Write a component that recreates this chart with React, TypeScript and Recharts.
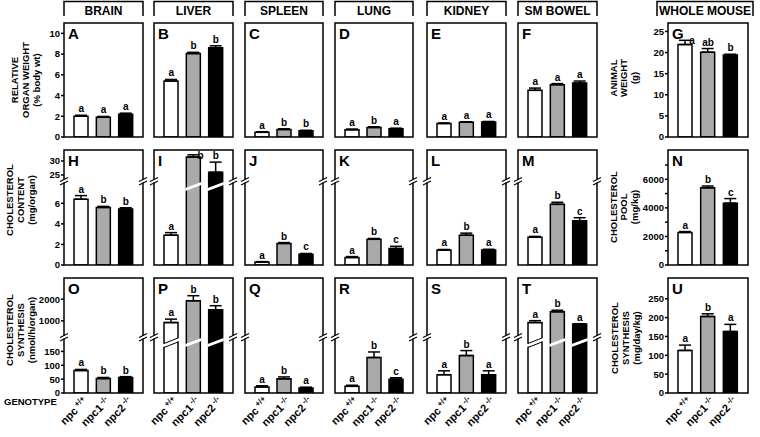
import React from 'react';
import { ComposedChart, Bar, ErrorBar, Line, LabelList, XAxis, YAxis } from 'recharts';

const FONT = '"Liberation Sans", Arial, Helvetica, sans-serif';
const GENOTYPES = ['npc +/+', 'npc1 -/-', 'npc2 -/-'];
const FILLS = ['#ffffff', '#aaaaaa', '#000000'];

// relative organ weight (% body wt) and animal weight (g)
const brainWt = [2.0, 1.9, 2.2];
const brainWtErr = [0.1, 0.08, 0.1];
const brainWtSig = ['a', 'a', 'a'];
const liverWt = [5.4, 8.05, 8.6];
const liverWtErr = [0.15, 0.12, 0.2];
const liverWtSig = ['a', 'b', 'b'];
const spleenWt = [0.45, 0.72, 0.6];
const spleenWtErr = [0.06, 0.07, 0.05];
const spleenWtSig = ['a', 'b', 'b'];
const lungWt = [0.7, 0.92, 0.8];
const lungWtErr = [0.07, 0.07, 0.05];
const lungWtSig = ['a', 'b', 'a'];
const kidneyWt = [1.3, 1.42, 1.45];
const kidneyWtErr = [0.06, 0.05, 0.05];
const kidneyWtSig = ['a', 'a', 'a'];
const bowelWt = [4.5, 5.05, 5.2];
const bowelWtErr = [0.22, 0.1, 0.2];
const bowelWtSig = ['a', 'a', 'a'];
const bodyWt = [21.9, 20.1, 19.4];
const bodyWtErr = [1.0, 0.85, 0.2];
const bodyWtSig = ['a', 'ab', 'b'];

// cholesterol content (mg/organ) and pool (mg/kg)
const brainChol = [6.4, 5.6, 5.45];
const brainCholErr = [0.35, 0.1, 0.12];
const brainCholSig = ['a', 'b', 'b'];
const liverChol = [2.9, 31.4, 26.0];
const liverCholErr = [0.25, 0.8, 3.6];
const liverCholSig = ['a', 'b', 'b'];
const spleenChol = [0.28, 2.1, 1.05];
const spleenCholErr = [0.05, 0.08, 0.07];
const spleenCholSig = ['a', 'b', 'c'];
const lungChol = [0.72, 2.5, 1.6];
const lungCholErr = [0.1, 0.08, 0.22];
const lungCholSig = ['a', 'b', 'c'];
const kidneyChol = [1.45, 2.9, 1.45];
const kidneyCholErr = [0.06, 0.2, 0.08];
const kidneyCholSig = ['a', 'b', 'a'];
const bowelChol = [2.7, 5.9, 4.3];
const bowelCholErr = [0.08, 0.2, 0.3];
const bowelCholSig = ['a', 'b', 'c'];
const cholPool = [2280, 5400, 4330];
const cholPoolErr = [60, 130, 320];
const cholPoolSig = ['a', 'b', 'c'];

// cholesterol synthesis (nmol/h/organ) and whole body (mg/day/kg)
const brainSyn = [81, 52, 56];
const brainSynErr = [4, 4, 3];
const brainSynSig = ['a', 'b', 'b'];
const liverSyn = [920, 1930, 1510];
const liverSynErr = [160, 230, 190];
const liverSynSig = ['a', 'b', 'b'];
const spleenSyn = [22, 51, 18];
const spleenSynErr = [4, 7, 3];
const spleenSynSig = ['a', 'b', 'a'];
const lungSyn = [24, 128, 50];
const lungSynErr = [4, 20, 5];
const lungSynSig = ['a', 'b', 'c'];
const kidneySyn = [66, 135, 66];
const kidneySynErr = [14, 18, 14];
const kidneySynSig = ['a', 'b', 'a'];
const bowelSyn = [920, 1420, 850];
const bowelSynErr = [90, 70, 20];
const bowelSynSig = ['a', 'b', 'a'];
const bodySyn = [113, 203, 163];
const bodySynErr = [14, 7, 19];
const bodySynSig = ['a', 'b', 'a'];

const HEADERS = ['BRAIN', 'LIVER', 'SPLEEN', 'LUNG', 'KIDNEY', 'SM BOWEL'];

type Row = { g: string; v: number; e: [number, number]; top: number; sig: string; fill: string };

const rowsOf = (v: number[], e: number[], s: string[]): Row[] =>
  GENOTYPES.map((g, i) => ({ g, v: v[i], e: [0, e[i]], top: v[i] + e[i], sig: s[i], fill: FILLS[i] }));

// layout
const COLS = [[64, 143], [154, 233], [245, 323], [335, 413], [427, 506], [518, 597]];
const WHOLE = [668, 748];
const ROWS = [[23, 137], [150, 265], [278, 393]];
const BREAKS = [0, 181, 337];
const AR = 6;

const tickFont = { fontSize: 9.5, fontWeight: 700, fill: '#000', fontFamily: FONT };

const GenoTick = (p: any) => {
  const { x, y, payload } = p;
  const [base, sup] = String(payload.value).split(' ');
  return (
    <g transform={`translate(${x + 7},${y + 9}) rotate(-45)`}>
      <text textAnchor="end" fontFamily={FONT} fontSize={11} fontWeight={700} fill="#000">
        <tspan>{base}</tspan>
        <tspan dx={2} dy={-4} fontSize={8}>{sup}</tspan>
      </text>
    </g>
  );
};

const makeShape = (kind: string, plotH: number) => (p: any) => {
  const { x, y, width: w, height: h, payload } = p;
  if (x == null || y == null || h == null) return null;
  const fill = payload.fill;
  let t0 = y;
  let b0 = y + h;
  if (h < 0) {
    t0 = y + h;
    b0 = y;
  }
  if (t0 >= plotH - 0.01) return null;
  const over = kind === 'lower' && t0 < 0;
  const t = Math.max(t0, 0);
  const b = Math.min(b0, plotH);
  if (b <= t) return null;
  let d = `M${x},${b}V${t}H${x + w}V${b}Z`;
  if (over) d = `M${x},${t}V${b}H${x + w}V${t}`;
  if (kind === 'upper') d = `M${x},${b}V${t}H${x + w}V${b}`;
  return (
    <g>
      <rect x={x} y={t} width={w} height={b - t} fill={fill} />
      <path d={d} fill="none" stroke="#000" strokeWidth={1.5} />
      {over && (
        <g>
          <polygon points={`${x - 1},${7} ${x + w + 1},${1} ${x + w + 1},${4} ${x - 1},${10}`} fill="#fff" />
          {fill === '#ffffff' && (
            <g stroke="#000" strokeWidth={1}>
              <line x1={x} y1={6.5} x2={x + w} y2={1} />
              <line x1={x} y1={10.5} x2={x + w} y2={5} />
            </g>
          )}
        </g>
      )}
    </g>
  );
};

const makeLabel = (axisL: number, letterZone: boolean) => (p: any) => {
  const vb = p.viewBox || {};
  const x = (vb.x ?? p.x) + (vb.width || 0) / 2;
  const y = vb.y ?? p.y;
  const value = p.value;
  if (!value || y == null || isNaN(y)) return null;
  let lx = x;
  let ly = y - 3;
  let anchor = 'middle';
  const rel = x - axisL;
  if (ly - 8 < 0 || (letterZone && rel < 26 && ly - 8 < 17)) {
    lx = x + 4;
    ly = y + 4;
    anchor = 'start';
  }
  return (
    <text x={lx} y={ly} textAnchor={anchor} fontFamily={FONT} fontSize={10} fontWeight={700} fill="#000">
      {value}
    </text>
  );
};

type SegProps = {
  rows: Row[];
  domain: [number, number];
  ticks: number[];
  fmt?: (v: number) => string;
  left: number;
  top: number;
  width: number;
  height: number;
  axisL: number;
  showLabels: boolean;
  xLabels: boolean;
  kind: string;
};

function Segment({ rows, domain, ticks, fmt, left, top, width, height, axisL, showLabels, xLabels, kind }: SegProps) {
  const xH = xLabels ? 46 : 0;
  // room under the plot so the "0" tick label is not cut
  const padB = !xLabels && kind !== 'upper' ? 6 : 0;
  const data = rows.map((r) => ({
    ...r,
    sig:
      kind === 'lower' ? (r.v <= domain[1] ? r.sig : '') : kind === 'upper' ? (r.v > domain[0] ? r.sig : '') : r.sig,
  }));
  return (
    <div style={{ position: 'absolute', left: left - axisL, top }}>
      <ComposedChart
        width={width + axisL + AR}
        height={height + xH + padB}
        data={data}
        margin={{ top: 0, right: 0, bottom: padB, left: 0 }}
      >
        <XAxis
          dataKey="g"
          hide={!xLabels}
          height={xH}
          axisLine={false}
          tickLine={false}
          tickSize={0}
          tickMargin={0}
          interval={0}
          tick={<GenoTick />}
          padding={{ left: 6, right: 6 }}
        />
        <YAxis
          yAxisId="l"
          type="number"
          width={axisL}
          domain={domain}
          ticks={ticks}
          interval={0}
          allowDataOverflow
          axisLine={false}
          tickSize={3}
          tickMargin={1}
          tickLine={{ stroke: '#000', strokeWidth: 1.5 }}
          tick={showLabels ? tickFont : false}
          tickFormatter={fmt}
        />
        <YAxis
          yAxisId="r"
          type="number"
          orientation="right"
          width={AR}
          domain={domain}
          ticks={ticks}
          interval={0}
          allowDataOverflow
          axisLine={false}
          tickSize={3}
          tickLine={{ stroke: '#000', strokeWidth: 1.5 }}
          tick={false}
        />
        <Bar yAxisId="l" dataKey="v" barSize={14} isAnimationActive={false} shape={makeShape(kind, height)}>
          <ErrorBar dataKey="e" width={6} stroke="#000" strokeWidth={1.5} direction="y" />
        </Bar>
        <Line yAxisId="l" dataKey="top" stroke="none" dot={false} activeDot={false} isAnimationActive={false}>
          <LabelList dataKey="sig" content={makeLabel(axisL, kind !== 'lower')} />
        </Line>
      </ComposedChart>
    </div>
  );
}

type PanelProps = {
  x: number[];
  y: number[];
  rows: Row[];
  lower: [number, number];
  lowerTicks: number[];
  upper?: [number, number];
  upperTicks?: number[];
  breakY?: number;
  labels: boolean;
  xLabels: boolean;
  fmt?: (v: number) => string;
};

function Panel({ x, y, rows, lower, lowerTicks, upper, upperTicks, breakY, labels, xLabels, fmt }: PanelProps) {
  const axisL = labels ? 34 : 6;
  const w = x[1] - x[0];
  if (upper && breakY) {
    return (
      <>
        <Segment rows={rows} domain={upper} ticks={upperTicks || []} left={x[0]} top={y[0]} width={w}
          height={breakY - y[0]} axisL={axisL} showLabels={labels} xLabels={false} kind="upper" fmt={fmt} />
        <Segment rows={rows} domain={lower} ticks={lowerTicks} left={x[0]} top={breakY} width={w}
          height={y[1] - breakY} axisL={axisL} showLabels={labels} xLabels={xLabels} kind="lower" fmt={fmt} />
      </>
    );
  }
  return (
    <Segment rows={rows} domain={lower} ticks={lowerTicks} left={x[0]} top={y[0]} width={w}
      height={y[1] - y[0]} axisL={axisL} showLabels={labels} xLabels={xLabels} kind="plain" fmt={fmt} />
  );
}

const breakMark = (ex: number, by: number, key: string) => (
  <g key={key}>
    <rect x={ex - 1.5} y={by - 1.5} width={3} height={3} fill="#fff" />
    <line x1={ex - 4} y1={by + 0.5} x2={ex + 4} y2={by - 3.5} stroke="#000" strokeWidth={1.2} />
    <line x1={ex - 4} y1={by + 4} x2={ex + 4} y2={by} stroke="#000" strokeWidth={1.2} />
  </g>
);

const Title = ({ cy, xs, lines }: { cy: number; xs: number[]; lines: string[] }) => (
  <g>
    {lines.map((l, i) => (
      <text key={l} transform={`translate(${xs[i]},${cy}) rotate(-90)`} textAnchor="middle"
        fontFamily={FONT} fontSize={9.5} fontWeight={700} fill="#000">
        {l}
      </text>
    ))}
  </g>
);

export default function App() {
  const weightRows = [
    rowsOf(brainWt, brainWtErr, brainWtSig),
    rowsOf(liverWt, liverWtErr, liverWtSig),
    rowsOf(spleenWt, spleenWtErr, spleenWtSig),
    rowsOf(lungWt, lungWtErr, lungWtSig),
    rowsOf(kidneyWt, kidneyWtErr, kidneyWtSig),
    rowsOf(bowelWt, bowelWtErr, bowelWtSig),
  ];
  const cholRows = [
    rowsOf(brainChol, brainCholErr, brainCholSig),
    rowsOf(liverChol, liverCholErr, liverCholSig),
    rowsOf(spleenChol, spleenCholErr, spleenCholSig),
    rowsOf(lungChol, lungCholErr, lungCholSig),
    rowsOf(kidneyChol, kidneyCholErr, kidneyCholSig),
    rowsOf(bowelChol, bowelCholErr, bowelCholSig),
  ];
  const synRows = [
    rowsOf(brainSyn, brainSynErr, brainSynSig),
    rowsOf(liverSyn, liverSynErr, liverSynSig),
    rowsOf(spleenSyn, spleenSynErr, spleenSynSig),
    rowsOf(lungSyn, lungSynErr, lungSynSig),
    rowsOf(kidneySyn, kidneySynErr, kidneySynSig),
    rowsOf(bowelSyn, bowelSynErr, bowelSynSig),
  ];
  const letters = ['ABCDEFG', 'HIJKLMN', 'OPQRSTU'];
  const allCols = [...COLS, WHOLE];

  return (
    <div style={{ position: 'absolute', left: 0, top: 0, width: 760, height: 437, background: '#fff', overflow: 'hidden' }}>
      {weightRows.map((r, i) => (
        <Panel key={`w${i}`} x={COLS[i]} y={ROWS[0]} rows={r} lower={[0, 11]} lowerTicks={[0, 2, 4, 6, 8, 10]}
          labels={i === 0} xLabels={false} />
      ))}
      <Panel x={WHOLE} y={ROWS[0]} rows={rowsOf(bodyWt, bodyWtErr, bodyWtSig)} lower={[0, 27]}
        lowerTicks={[0, 5, 10, 15, 20, 25]} labels xLabels={false} />

      {cholRows.map((r, i) => (
        <Panel key={`c${i}`} x={COLS[i]} y={ROWS[1]} rows={r} lower={[0, 8.17]} lowerTicks={[0, 2, 4, 6]}
          upper={[22.86, 33.93]} upperTicks={[25, 30]} breakY={BREAKS[1]} labels={i === 0} xLabels={false} />
      ))}
      <Panel x={WHOLE} y={ROWS[1]} rows={rowsOf(cholPool, cholPoolErr, cholPoolSig)} lower={[0, 8050]}
        lowerTicks={[0, 1000, 2000, 3000, 4000, 5000, 6000, 7000]} labels xLabels={false}
        fmt={(v) => (v % 2000 === 0 ? String(v) : '')} />

      {synRows.map((r, i) => (
        <Panel key={`s${i}`} x={COLS[i]} y={ROWS[2]} rows={r} lower={[0, 202]} lowerTicks={[0, 50, 100, 150]}
          upper={[256, 2977]} upperTicks={[1000, 2000]} breakY={BREAKS[2]} labels={i === 0} xLabels />
      ))}
      <Panel x={WHOLE} y={ROWS[2]} rows={rowsOf(bodySyn, bodySynErr, bodySynSig)} lower={[0, 305]}
        lowerTicks={[0, 50, 100, 150, 200, 250]} labels xLabels />

      <svg width={760} height={437} style={{ position: 'absolute', left: 0, top: 0, pointerEvents: 'none' }}>
        {HEADERS.map((h, i) => (
          <g key={h}>
            <path d={`M${COLS[i][0]},16V1.5H${COLS[i][1]}V16`} fill="none" stroke="#000" strokeWidth={1.5} />
            <text x={(COLS[i][0] + COLS[i][1]) / 2} y={14.5} textAnchor="middle" fontFamily={FONT}
              fontSize={12} fontWeight={700}>{h}</text>
          </g>
        ))}
        <path d="M657,16V1.5H753V16" fill="none" stroke="#000" strokeWidth={1.5} />
        <text x={705} y={14.5} textAnchor="middle" fontFamily={FONT} fontSize={12} fontWeight={700}>WHOLE MOUSE</text>

        {ROWS.map((ry, ri) =>
          allCols.map((cx, ci) => (
            <g key={`f${ri}${ci}`}>
              <rect x={cx[0]} y={ry[0]} width={cx[1] - cx[0]} height={ry[1] - ry[0]} fill="none" stroke="#000" strokeWidth={1.5} />
              <text x={cx[0] + 4} y={ry[0] + 16} fontFamily={FONT} fontSize={15} fontWeight={700}>{letters[ri][ci]}</text>
              {ri > 0 && ci < 6 && breakMark(cx[0], BREAKS[ri], `bl${ri}${ci}`)}
              {ri > 0 && ci < 6 && breakMark(cx[1], BREAKS[ri], `br${ri}${ci}`)}
            </g>
          ))
        )}

        <Title cy={80} xs={[18, 29, 40]} lines={['RELATIVE', 'ORGAN WEIGHT', '(% body wt)']} />
        <Title cy={200} xs={[13, 24, 35]} lines={['CHOLESTEROL', 'CONTENT', '(mg/organ)']} />
        <Title cy={330} xs={[13, 24, 35]} lines={['CHOLESTEROL', 'SYNTHESIS', '(nmol/h/organ)']} />
        <Title cy={78} xs={[617, 627, 638]} lines={['ANIMAL', 'WEIGHT', '(g)']} />
        <Title cy={207} xs={[617, 627, 638]} lines={['CHOLESTEROL', 'POOL', '(mg/kg)']} />
        <Title cy={338} xs={[618, 629, 640]} lines={['CHOLESTEROL', 'SYNTHESIS', '(mg/day/kg)']} />
        <text x={4} y={405} fontFamily={FONT} fontSize={9.5} fontWeight={700}>GENOTYPE</text>
      </svg>
    </div>
  );
}
